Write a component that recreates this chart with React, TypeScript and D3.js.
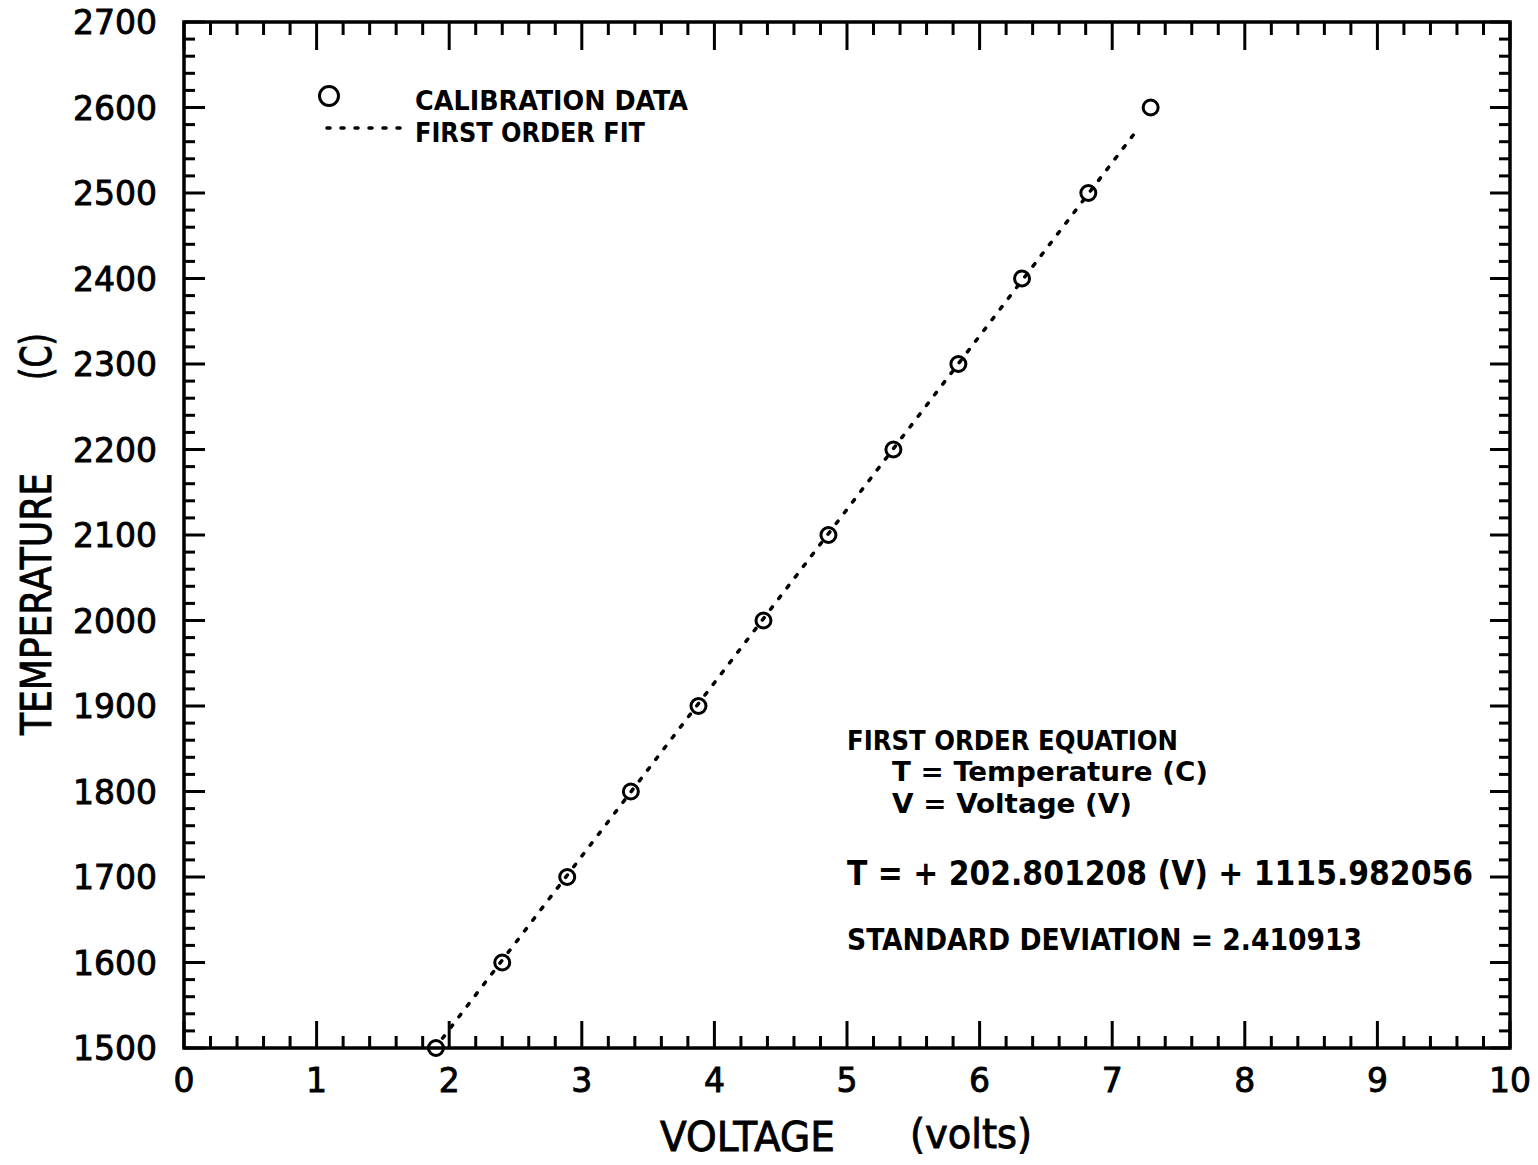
import React from "react";
import * as d3 from "d3";

// calibration points
const voltage = [1.9, 2.4, 2.89, 3.37, 3.88, 4.37, 4.86, 5.35, 5.84, 6.32, 6.82, 7.29];
const temperature = [1500, 1600, 1700, 1800, 1900, 2000, 2100, 2200, 2300, 2400, 2500, 2600];

// first order fit T = a*V + b
const fitCoef = [202.801208, 1115.982056];
const fitRange = [1.95, 7.2];

const xDomain = [0, 10];
const yDomain = [1500, 2700];
const xTickLabels = ["0", "1", "2", "3", "4", "5", "6", "7", "8", "9", "10"];
const yTickLabels = ["1500", "1600", "1700", "1800", "1900", "2000", "2100", "2200", "2300", "2400", "2500", "2600", "2700"];

const legendLabels = ["CALIBRATION DATA", "FIRST ORDER FIT"];
const noteLines = [
  "FIRST ORDER EQUATION",
  "T = Temperature (C)",
  "V = Voltage (V)",
  "T = + 202.801208 (V) + 1115.982056",
  "STANDARD DEVIATION = 2.410913",
];

const W = 1538;
const H = 1165;
const margin = { top: 22, right: 28, bottom: 117, left: 184 };

const tickFont = "'DejaVu Sans', 'Liberation Sans', sans-serif";
const boldFont = "'DejaVu Sans Condensed', 'Liberation Sans Narrow', 'DejaVu Sans', sans-serif";

export default function App() {
  const x = d3.scaleLinear().domain(xDomain).range([margin.left, W - margin.right]);
  const y = d3.scaleLinear().domain(yDomain).range([H - margin.bottom, margin.top]);
  const [x0, x1] = x.range();
  const [y0, y1] = y.range(); // y0 bottom, y1 top

  const xMajor = x.ticks(10);
  const xMinor = d3.range(0, 50).map(i => i * 0.2).filter(v => Math.abs(v - Math.round(v)) > 1e-6);
  const yMajor = d3.range(yDomain[0], yDomain[1] + 1, 100);
  const yMinor = d3.range(yDomain[0], yDomain[1], 20).filter(v => v % 100 !== 0);

  const fitLine = d3.line<number>()
    .x(v => x(v))
    .y(v => y(fitCoef[0] * v + fitCoef[1]));

  const stroke = "#000";
  // a thin outline thickens the regular glyphs toward the scanned look
  const heavy = { stroke: "#000", strokeWidth: 0.9 };

  return (
    <svg width={W} height={H} style={{ position: "absolute", left: 0, top: 0, background: "#fff" }}>
      {/* frame */}
      <rect x={x0} y={y1} width={x1 - x0} height={y0 - y1} fill="none" stroke={stroke} strokeWidth={3.5} />

      {/* x ticks bottom and top */}
      {xMajor.map(v => (
        <g key={"xM" + v}>
          <line x1={x(v)} x2={x(v)} y1={y0} y2={y0 - 27} stroke={stroke} strokeWidth={3} />
          <line x1={x(v)} x2={x(v)} y1={y1} y2={y1 + 28} stroke={stroke} strokeWidth={3} />
        </g>
      ))}
      {xMinor.map(v => (
        <g key={"xm" + v}>
          <line x1={x(v)} x2={x(v)} y1={y0} y2={y0 - 12} stroke={stroke} strokeWidth={3} />
          <line x1={x(v)} x2={x(v)} y1={y1} y2={y1 + 13} stroke={stroke} strokeWidth={3} />
        </g>
      ))}
      {/* y ticks left and right */}
      {yMajor.map(v => (
        <g key={"yM" + v}>
          <line x1={x0} x2={x0 + 21} y1={y(v)} y2={y(v)} stroke={stroke} strokeWidth={3} />
          <line x1={x1} x2={x1 - 20} y1={y(v)} y2={y(v)} stroke={stroke} strokeWidth={3} />
        </g>
      ))}
      {yMinor.map(v => (
        <g key={"ym" + v}>
          <line x1={x0} x2={x0 + 11} y1={y(v)} y2={y(v)} stroke={stroke} strokeWidth={3} />
          <line x1={x1} x2={x1 - 11} y1={y(v)} y2={y(v)} stroke={stroke} strokeWidth={3} />
        </g>
      ))}

      {/* tick labels */}
      {xMajor.map((v, i) => (
        <text key={"xl" + v} x={x(v)} y={y0 + 44} textAnchor="middle" fontFamily={tickFont} fontSize={33} {...heavy}>
          {xTickLabels[i]}
        </text>
      ))}
      {yMajor.map((v, i) => (
        <text key={"yl" + v} x={157} y={y(v) + 12} textAnchor="end" fontFamily={tickFont} fontSize={33} {...heavy}>
          {yTickLabels[i]}
        </text>
      ))}

      {/* axis titles */}
      <text x={660} y={1151} fontFamily={tickFont} fontSize={41} textLength={175} lengthAdjust="spacingAndGlyphs" {...heavy}>VOLTAGE</text>
      <text x={910} y={1148} fontFamily={tickFont} fontSize={41} textLength={122} lengthAdjust="spacingAndGlyphs" {...heavy}>(volts)</text>
      <g transform="translate(51,735) rotate(-90)">
        <text x={0} y={0} fontFamily={tickFont} fontSize={42} textLength={262} lengthAdjust="spacingAndGlyphs" {...heavy}>TEMPERATURE</text>
        <text x={355} y={0} fontFamily={tickFont} fontSize={42} textLength={47} lengthAdjust="spacingAndGlyphs" {...heavy}>(C)</text>
      </g>

      {/* fit line */}
      <path d={fitLine(fitRange) || ""} fill="none" stroke={stroke} strokeWidth={3.5}
        strokeDasharray="3 10.5" strokeLinecap="round" />

      {/* calibration points */}
      {voltage.map((v, i) => (
        <circle key={"p" + i} cx={x(v)} cy={y(temperature[i])} r={7.5} fill="none" stroke={stroke} strokeWidth={3} />
      ))}

      {/* legend */}
      <circle cx={329} cy={96} r={9.5} fill="none" stroke={stroke} strokeWidth={3} />
      <text x={415} y={110} fontFamily={boldFont} fontWeight="bold" fontSize={27} textLength={273} lengthAdjust="spacingAndGlyphs">{legendLabels[0]}</text>
      <line x1={327} x2={400} y1={128} y2={128} stroke={stroke} strokeWidth={3.5} strokeDasharray="3 11" strokeLinecap="round" />
      <text x={415} y={142} fontFamily={boldFont} fontWeight="bold" fontSize={27} textLength={230} lengthAdjust="spacingAndGlyphs">{legendLabels[1]}</text>

      {/* equation note */}
      <text x={847} y={750} fontFamily={boldFont} fontWeight="bold" fontSize={26.5} textLength={331} lengthAdjust="spacingAndGlyphs">{noteLines[0]}</text>
      <text x={892} y={781} fontFamily={boldFont} fontWeight="bold" fontSize={26.5} textLength={316} lengthAdjust="spacingAndGlyphs">{noteLines[1]}</text>
      <text x={892} y={813} fontFamily={boldFont} fontWeight="bold" fontSize={26.5} textLength={240} lengthAdjust="spacingAndGlyphs">{noteLines[2]}</text>
      <text x={847} y={885} fontFamily={tickFont} fontWeight="bold" fontSize={33} textLength={626} lengthAdjust="spacingAndGlyphs">{noteLines[3]}</text>
      <text x={847} y={950} fontFamily={boldFont} fontWeight="bold" fontSize={31} textLength={515} lengthAdjust="spacingAndGlyphs">{noteLines[4]}</text>
    </svg>
  );
}
